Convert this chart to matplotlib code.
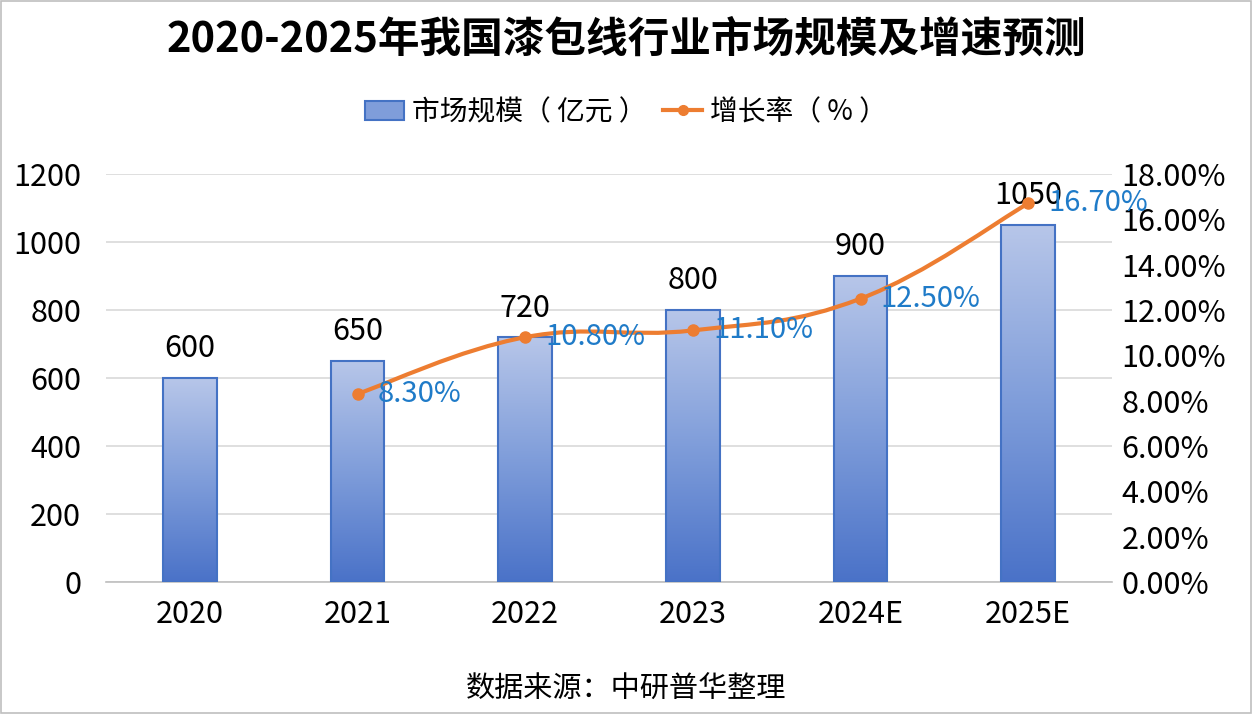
import numpy as np
import matplotlib
matplotlib.use("Agg")
import matplotlib.pyplot as plt
from matplotlib.patches import Rectangle
from matplotlib.path import Path
from matplotlib.patches import PathPatch
from matplotlib.lines import Line2D
from matplotlib.colors import LinearSegmentedColormap

plt.rcParams['font.family'] = ['Noto Sans CJK SC', 'DejaVu Sans']

categories = ["2020", "2021", "2022", "2023", "2024E", "2025E"]
market_size = [600, 650, 720, 800, 900, 1050]
growth_cats = ["2021", "2022", "2023", "2024E", "2025E"]
growth_rate = [8.30, 10.80, 11.10, 12.50, 16.70]
left_ticks = [0, 200, 400, 600, 800, 1000, 1200]
right_ticks = [0, 2, 4, 6, 8, 10, 12, 14, 16, 18]

title = "2020-2025年我国漆包线行业市场规模及增速预测"
bar_label = "市场规模（ 亿元 ）"
line_label = "增长率（ % ）"
source = "数据来源：中研普华整理"

fig = plt.figure(figsize=(12.52, 7.14), dpi=100)
ax = fig.add_axes([106/1252, 132/714, 1006/1252, 408/714])
ax2 = ax.twinx()

x = np.arange(len(categories))
bw = 0.32

grad = np.linspace(0, 1, 256).reshape(-1, 1)
cmap = LinearSegmentedColormap.from_list("g", ["#4A72C8", "#7F9DDA", "#B7C6E9"])
for xi, v in zip(x, market_size):
    rect = Rectangle((xi - bw/2, 0), bw, v, facecolor="none", edgecolor="#4472C4", lw=1.5, zorder=3)
    ax.add_patch(rect)
    im = ax.imshow(grad, extent=[xi - bw/2, xi + bw/2, 0, v], origin="lower", cmap=cmap,
                   aspect="auto", zorder=2)
    im.set_clip_path(rect)
    ax.text(xi, v + 40, str(v), ha="center", va="bottom", fontsize=22, color="black", zorder=5)
ax.set_aspect("auto")
ax.set_xlim(-0.5, len(categories) - 0.5)
ax.set_ylim(0, 1200)
ax2.set_ylim(0, 18)

# smooth line through growth points
gx = np.array([categories.index(c) for c in growth_cats], dtype=float)
gy = np.array(growth_rate)
sy = gy / 18 * 408 / 167.7
pts = np.column_stack([gx, sy])
verts = [pts[0]]
codes = [Path.MOVETO]
t = 0.2
for i in range(len(pts) - 1):
    p0 = pts[i - 1] if i > 0 else pts[i]
    p1 = pts[i]
    p2 = pts[i + 1]
    p3 = pts[i + 2] if i + 2 < len(pts) else pts[i + 1]
    c1 = p1 + (p2 - p0) * t
    c2 = p2 - (p3 - p1) * t
    verts += [c1, c2, p2]
    codes += [Path.CURVE4] * 3
verts = np.array(verts)
verts[:, 1] = verts[:, 1] * 167.7 / 408 * 18
path = Path(verts, codes)
ax2.add_patch(PathPatch(path, facecolor="none", edgecolor="#ED7D31", lw=3, zorder=4, capstyle="round"))
ax2.plot(gx, gy, "o", color="#ED7D31", ms=8, zorder=5)
for xi, g in zip(gx, gy):
    ax2.text(xi + 0.12, g, f"{g:.2f}%", ha="left", va="center", fontsize=21, color="#1F7BC8", zorder=6)

ax.set_xticks(x)
ax.set_xticklabels(categories, fontsize=22)
ax.set_yticks(left_ticks)
ax.set_yticklabels([str(t) for t in left_ticks], fontsize=22)
ax2.set_yticks(right_ticks)
ax2.set_yticklabels([f"{t:.2f}%" for t in right_ticks], fontsize=22)
ax.tick_params(axis="y", length=0, pad=18)
ax.tick_params(axis="x", length=0, pad=12)
ax2.tick_params(axis="y", length=0, pad=7)
ax.grid(axis="y", color="#D9D9D9", lw=1.2, zorder=0)
ax.set_axisbelow(True)
for s in ["top", "left", "right"]:
    ax.spines[s].set_visible(False)
    ax2.spines[s].set_visible(False)
ax2.spines["bottom"].set_visible(False)
ax.spines["bottom"].set_color("#BFBFBF")
ax.spines["bottom"].set_linewidth(1.2)

fig.text(0.5, 1 - 40/714, title, ha="center", va="center", fontsize=30, fontweight="bold")
fig.text(0.5, 1 - 690/714, source, ha="center", va="center", fontsize=21)

handles = [Rectangle((0, 0), 1, 1, facecolor="#7F9DDA", edgecolor="#4472C4", lw=1.5),
           Line2D([0], [0], color="#ED7D31", lw=3, marker="o", ms=7)]
fig.legend(handles, [bar_label, line_label], loc="center", bbox_to_anchor=(0.5, 1 - 112/714),
           ncol=2, frameon=False, fontsize=20, handlelength=1.4, columnspacing=0.6, handletextpad=0.3)

border = Rectangle((0.001, 0.001), 0.998, 0.998, transform=fig.transFigure, fill=False,
                   edgecolor="#BFBFBF", lw=1.2)
fig.patches.append(border)

fig.savefig("out.png", dpi=100)
